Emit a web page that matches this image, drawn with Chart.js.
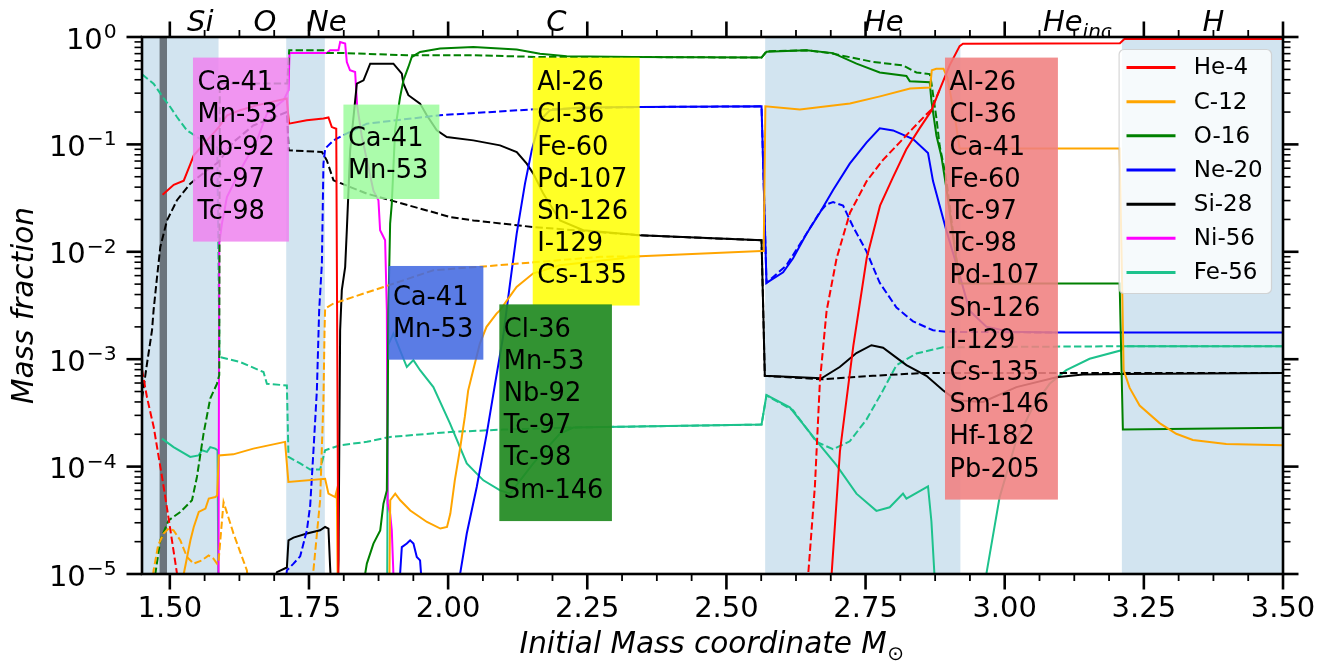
<!DOCTYPE html>
<html lang="en">
<head>
<meta charset="UTF-8">
<title>Mass fraction profiles</title>
<script src="https://cdn.jsdelivr.net/npm/chart.js"></script>
<style>
  html, body { margin: 0; padding: 0; background: #fff; }
  #wrap { width: 1336px; height: 662px; }
</style>
</head>
<body>
<div id="wrap"><canvas id="chart"></canvas></div>
<script>
// ---- data: [mass coordinate, mass fraction] ----
const isotopes = ['He-4', 'C-12', 'O-16', 'Ne-20', 'Si-28', 'Ni-56', 'Fe-56'];
const isoColors = ['#ff0000', '#ffa500', '#008000', '#0000ff', '#000000', '#ff00ff', '#1dc28c'];

const he4Solid = [[1.487,0.034],[1.507,0.042],[1.525,0.046],[1.537,0.066],[1.543,0.079],[1.567,0.109],[1.588,0.145],[1.603,0.187],[1.626,0.208],[1.656,0.231],[1.710,0.267],[1.714,0.156],[1.746,0.168],[1.776,0.174],[1.785,0.178],[1.791,0.145],[1.799,0.140],[1.803,5e-6],[2.684,5e-6],[2.689,1.0e-5],[2.704,1.39e-4],[2.728,1.33e-3],[2.752,8.7e-3],[2.776,0.0269],[2.799,0.049],[2.823,0.0895],[2.847,0.141],[2.868,0.205],[2.883,0.322],[2.901,0.544],[2.919,0.823],[2.925,0.867],[3.207,0.874],[3.215,0.956],[3.50,0.956]];
const he4Dashed = [[1.45,8.0e-4],[1.459,4.4e-4],[1.471,2.34e-4],[1.489,6.45e-5],[1.501,2.57e-5],[1.513,1.0e-5],[1.517,5e-6],[2.643,5e-6],[2.647,1.0e-5],[2.659,6.6e-5],[2.668,6.25e-4],[2.680,2.82e-3],[2.698,8.7e-3],[2.722,0.0231],[2.752,0.0455],[2.781,0.0714],[2.811,0.104],[2.835,0.141],[2.859,0.19],[2.868,0.21],[2.883,0.322]];

const c12Solid = [[1.522,7e-6],[1.525,1.0e-5],[1.537,2.06e-5],[1.543,2.74e-5],[1.552,3.78e-5],[1.564,4.06e-5],[1.570,5.04e-5],[1.582,5.21e-5],[1.585,5.4e-5],[1.588,1.27e-4],[1.614,1.30e-4],[1.650,1.47e-4],[1.707,1.70e-4],[1.713,7.2e-5],[1.779,7.7e-5],[1.785,5.6e-5],[1.797,5.2e-5],[1.800,6.0e-5],[1.802,5e-6],[1.894,5e-6],[1.896,4.86e-5],[1.905,5.6e-5],[1.914,4.86e-5],[1.932,3.9e-5],[1.962,3.05e-5],[1.986,2.65e-5],[1.998,2.74e-5],[2.004,3.65e-5],[2.012,7.45e-5],[2.021,1.42e-4],[2.030,2.9e-4],[2.036,5.1e-4],[2.045,7.9e-4],[2.057,1.40e-3],[2.069,2.0e-3],[2.087,2.66e-3],[2.093,2.85e-3],[2.123,4.7e-3],[2.153,6.3e-3],[2.201,7.5e-3],[2.345,9.1e-3],[2.563,0.0102],[2.567,0.0102],[2.570,0.226],[2.632,0.211],[2.722,0.240],[2.776,0.28],[2.830,0.331],[2.866,0.338],[2.869,0.49],[2.877,0.505],[2.890,0.505],[2.897,0.42],[2.912,0.16],[2.919,0.0914],[3.2065,0.0914],[3.2137,7.9e-4],[3.2245,5.4e-4],[3.2424,3.7e-4],[3.2783,2.54e-4],[3.3082,2.02e-4],[3.338,1.77e-4],[3.398,1.62e-4],[3.50,1.58e-4]];
const c12Dashed = [[1.465,5e-6],[1.4708,1.08e-5],[1.479,1.85e-5],[1.4888,2.38e-5],[1.4978,2.65e-5],[1.5067,2.55e-5],[1.5188,2.06e-5],[1.5308,1.44e-5],[1.5426,1.25e-5],[1.5577,1.34e-5],[1.5696,1.49e-5],[1.5785,1.39e-5],[1.5847,1.25e-5],[1.5875,1.3e-5],[1.5965,4.68e-5],[1.6144,2.38e-5],[1.6385,1.08e-5],[1.644,5e-6],[1.756,5e-6],[1.758,1.08e-5],[1.770,4.86e-5],[1.776,4.14e-4],[1.778,1.86e-3],[1.779,2.96e-3],[1.794,3.3e-3],[1.884,4.7e-3],[1.9735,6.73e-3],[2.063,7.3e-3],[2.153,7.98e-3],[2.273,8.98e-3],[2.345,9.1e-3]];

const o16Solid = [[1.842,5e-6],[1.8509,1.0e-5],[1.854,1.25e-5],[1.8658,1.92e-5],[1.878,2.55e-5],[1.8838,4.52e-5],[1.8899,6.0e-5],[1.8927,2.85e-3],[1.8958,0.0183],[1.8988,0.0281],[1.9047,0.135],[1.9137,0.276],[1.9197,0.395],[1.9286,0.526],[1.9347,0.651],[1.9496,0.725],[1.9855,0.78],[2.0453,0.807],[2.1232,0.763],[2.1651,0.70],[2.213,0.661],[2.3326,0.651],[2.5631,0.643],[2.572,0.728],[2.6439,0.752],[2.6917,0.708],[2.7337,0.565],[2.7755,0.468],[2.8234,0.434],[2.8294,0.388],[2.8653,0.379],[2.8683,0.256],[2.8773,0.121],[2.8863,0.077],[2.8922,0.049],[2.8958,0.0374],[2.919,5.06e-3],[3.2065,5.06e-3],[3.2123,2.21e-4],[3.50,2.3e-4]];
const o16Dashed = [[1.465,5e-6],[1.4739,1.0e-5],[1.4829,2.06e-5],[1.4978,3.16e-5],[1.5188,3.78e-5],[1.5398,4.86e-5],[1.5487,8.0e-5],[1.5606,2.03e-4],[1.5726,4.3e-4],[1.5846,5.9e-4],[1.5888,7.1e-4],[1.5897,0.37],[1.7109,0.37],[1.7145,0.752],[1.776,0.752],[1.7821,0.71],[1.806,0.71],[1.9258,0.676],[2.0453,0.676],[2.1651,0.651],[2.3326,0.651],[2.5631,0.643],[2.572,0.736],[2.6439,0.752],[2.6857,0.708],[2.7635,0.586],[2.8173,0.544],[2.8414,0.468],[2.8653,0.452],[2.8683,0.374],[2.8773,0.176],[2.8832,0.0966],[2.8922,0.057],[2.8976,0.0374],[2.919,5.06e-3]];

const ne20Solid = [[1.912,5e-6],[1.9137,1.0e-5],[1.9168,1.78e-5],[1.9258,1.92e-5],[1.9317,2.06e-5],[1.9377,1.92e-5],[1.9437,1.44e-5],[1.9496,1.34e-5],[1.9514,1.0e-5],[1.953,5e-6],[2.018,5e-6],[2.0215,1.0e-5],[2.0335,2.38e-5],[2.0514,6.45e-5],[2.0694,2.03e-4],[2.0843,5.9e-4],[2.0992,1.67e-3],[2.1112,5.06e-3],[2.1232,0.01476],[2.1381,0.0431],[2.1502,0.088],[2.165,0.168],[2.183,0.208],[2.237,0.221],[2.3446,0.223],[2.5631,0.226],[2.572,5.14e-3],[2.6019,6.44e-3],[2.6198,8.7e-3],[2.6439,0.01475],[2.6678,0.0231],[2.6917,0.0377],[2.7216,0.0662],[2.7516,0.104],[2.7755,0.141],[2.7994,0.135],[2.8353,0.112],[2.8622,0.083],[2.8712,0.0455],[2.8832,0.0269],[2.8952,0.0158],[2.919,6.04e-3],[2.9371,2.82e-3],[2.967,2.01e-3],[3.0089,1.80e-3],[3.0927,1.77e-3],[3.50,1.77e-3]];
const ne20Dashed = [[1.7038,5e-6],[1.7103,1.08e-5],[1.7222,1.25e-5],[1.7342,1.46e-5],[1.7462,2.55e-5],[1.7522,4.36e-5],[1.7581,1.42e-4],[1.7642,5.13e-4],[1.7683,2.85e-3],[1.7732,7.76e-3],[1.776,0.0662],[1.7791,0.0914],[1.794,0.109],[1.812,0.122],[1.854,0.156],[1.9855,0.187],[2.153,0.212],[2.3446,0.223],[2.5631,0.226],[2.572,5.14e-3],[2.608,7.5e-3],[2.6439,0.01475],[2.6678,0.0234],[2.6798,0.0277],[2.6917,0.029],[2.7096,0.0269],[2.7276,0.0171],[2.7516,0.0101],[2.7755,5.14e-3],[2.8055,3.03e-3],[2.8353,2.25e-3],[2.8712,1.86e-3],[2.8952,1.8e-3],[3.0927,1.77e-3]];

const si28Solid = [[1.680,5e-6],[1.6924,1.04e-5],[1.7103,1.15e-5],[1.7132,2.06e-5],[1.7222,2.18e-5],[1.7462,2.38e-5],[1.770,2.55e-5],[1.779,2.74e-5],[1.785,2.65e-5],[1.788,1.16e-5],[1.7916,5e-6],[1.8006,5e-6],[1.803,1.34e-5],[1.806,1.86e-3],[1.809,4.4e-3],[1.815,7.2e-3],[1.818,0.0159],[1.824,0.088],[1.836,0.368],[1.848,0.395],[1.860,0.565],[1.9017,0.565],[1.9168,0.456],[1.9197,0.368],[1.9286,0.287],[1.9496,0.240],[1.9617,0.187],[1.9796,0.135],[1.9976,0.117],[2.0453,0.109],[2.0933,0.098],[2.1233,0.085],[2.1412,0.0662],[2.153,0.0535],[2.171,0.0348],[2.201,0.0196],[2.2428,0.0159],[2.3446,0.01425],[2.5631,0.0128],[2.569,7.0e-4],[2.6708,6.64e-4],[2.7036,8.46e-4],[2.7336,1.14e-3],[2.7606,1.35e-3],[2.7814,1.28e-3],[2.8114,9.8e-4],[2.8234,8.8e-4],[2.8593,7.0e-4],[2.8891,5.13e-4],[2.9132,4.14e-4],[2.961,4.0e-4],[3.021,5.5e-4],[3.093,6.8e-4],[3.1405,7.2e-4],[3.2123,7.3e-4],[3.50,7.44e-4]];
const si28Dashed = [[1.45,4.3e-4],[1.459,9.1e-4],[1.468,1.86e-3],[1.4708,2.85e-3],[1.477,5.8e-3],[1.4829,0.0111],[1.4949,0.0196],[1.5128,0.0302],[1.5367,0.0431],[1.5667,0.0574],[1.5875,0.0686],[1.614,0.105],[1.650,0.15],[1.7103,0.2],[1.7135,0.088],[1.7732,0.085],[1.7821,0.071],[1.794,0.0463],[1.854,0.0348],[2.0035,0.0211],[2.0453,0.0196],[2.153,0.0170],[2.3446,0.01425],[2.5631,0.0128],[2.569,7.0e-4],[2.6708,6.5e-4],[2.7635,7.0e-4],[2.8532,7.44e-4],[3.50,7.44e-4]];

const ni56Solid = [[1.586,5e-6],[1.5875,1.0e-5],[1.5888,0.012],[1.5936,0.0183],[1.6026,0.0324],[1.6265,0.0574],[1.6565,0.109],[1.6744,0.194],[1.7042,0.257],[1.7132,0.319],[1.715,0.71],[1.7821,0.71],[1.788,0.752],[1.803,0.752],[1.806,0.898],[1.815,0.868],[1.818,0.585],[1.8237,0.49],[1.8329,0.472],[1.8365,0.231],[1.8448,0.12],[1.8658,0.037],[1.8748,0.0302],[1.8778,0.0159],[1.8868,0.0128],[1.8899,2.85e-3],[1.8913,4.55e-5],[1.8958,3.65e-5],[1.8988,2.55e-5],[1.9017,1.0e-5],[1.903,5e-6]];

const fe56Solid = [[1.4859,1.82e-4],[1.5067,1.52e-4],[1.5367,1.23e-4],[1.5516,1.27e-4],[1.5577,1.42e-4],[1.5667,1.37e-4],[1.5726,1.52e-4],[1.5816,1.47e-4],[1.5857,1.42e-4],[1.5875,5e-6],[1.8904,5e-6],[1.8922,1.35e-3],[1.9017,1.73e-3],[1.9137,1.21e-3],[1.9258,8.46e-4],[1.9376,9.8e-4],[1.9496,7.9e-4],[1.9735,5.5e-4],[2.0035,2.51e-4],[2.0335,1.07e-4],[2.0633,7.45e-5],[2.0933,6.0e-5],[2.1112,5.6e-5],[2.153,1.07e-4],[2.201,2.03e-4],[2.2249,2.31e-4],[2.5631,2.46e-4],[2.572,4.63e-4],[2.6139,3.56e-4],[2.6618,1.74e-4],[2.6977,1.03e-4],[2.7336,5.6e-5],[2.7695,3.87e-5],[2.7934,4.18e-5],[2.8173,5.6e-5],[2.8234,5.04e-5],[2.8622,6.56e-5],[2.8683,3.1e-5],[2.8742,9e-6],[2.878,5e-6],[2.964,5e-6],[2.967,1.0e-5],[2.9909,5.2e-5],[3.0209,1.76e-4],[3.0507,3.59e-4],[3.0807,5.9e-4],[3.1107,7.9e-4],[3.1525,1.01e-3],[3.2094,1.21e-3],[3.2135,1.32e-3],[3.50,1.32e-3]];
const fe56Dashed = [[1.45,0.45],[1.4708,0.368],[1.4888,0.269],[1.5008,0.223],[1.5128,0.180],[1.5308,0.135],[1.5398,0.126],[1.5637,0.105],[1.5852,0.094],[1.5893,1.05e-3],[1.6265,9.4e-4],[1.6683,7.6e-4],[1.6744,5.9e-4],[1.7103,5.7e-4],[1.7132,1.23e-4],[1.7342,1.07e-4],[1.7522,9.4e-5],[1.770,9.4e-5],[1.779,1.42e-4],[1.806,1.58e-4],[1.854,1.70e-4],[1.8958,1.89e-4],[2.0035,2.10e-4],[2.0992,2.21e-4],[2.213,2.31e-4],[2.5631,2.46e-4],[2.572,4.6e-4],[2.6198,3.34e-4],[2.6618,1.70e-4],[2.6916,1.45e-4],[2.7216,1.72e-4],[2.7516,2.74e-4],[2.7814,5.13e-4],[2.8055,8.8e-4],[2.8414,1.13e-3],[2.8891,1.29e-3],[3.2065,1.32e-3],[3.50,1.32e-3]];

const solidSeries = [he4Solid, c12Solid, o16Solid, ne20Solid, si28Solid, ni56Solid, fe56Solid];
const dashedSeries = [he4Dashed, c12Dashed, o16Dashed, ne20Dashed, si28Dashed, null, fe56Dashed];

// burning zones (shaded) and the mass cut band
const zoneSpans = [[1.45, 1.5875], [1.7091, 1.7785], [2.5696, 2.9204], [3.2105, 3.50]];
const cutBand = [1.4816, 1.4949];
const zoneNames = ['Si', 'O', 'Ne', 'C', 'He', 'He', 'H'];
const zoneSubs = ['', '', '', '', '', 'inc', ''];
const zoneLabelX = [1.5547, 1.6708, 1.7821, 2.1943, 2.7827, 3.0687, 3.3751];

// axis ticks
const xMajorTicks = [1.50, 1.75, 2.00, 2.25, 2.50, 2.75, 3.00, 3.25, 3.50];
const xTickLabels = ['1.50', '1.75', '2.00', '2.25', '2.50', '2.75', '3.00', '3.25', '3.50'];
const yMajorTicks = [1e-5, 1e-4, 1e-3, 1e-2, 1e-1, 1];
const yTickExps = ['\u22125', '\u22124', '\u22123', '\u22122', '\u22121', '0'];

// isotope lists in the coloured boxes
const violetList = ['Ca-41', 'Mn-53', 'Nb-92', 'Tc-97', 'Tc-98'];
const paleList = ['Ca-41', 'Mn-53'];
const royalList = ['Ca-41', 'Mn-53'];
const yellowList = ['Al-26', 'Cl-36', 'Fe-60', 'Pd-107', 'Sn-126', 'I-129', 'Cs-135'];
const forestList = ['Cl-36', 'Mn-53', 'Nb-92', 'Tc-97', 'Tc-98', 'Sm-146'];
const coralList = ['Al-26', 'Cl-36', 'Ca-41', 'Fe-60', 'Tc-97', 'Tc-98', 'Pd-107', 'Sn-126', 'I-129', 'Cs-135', 'Sm-146', 'Hf-182', 'Pb-205'];

const boxes = [
  { lines: violetList, fill: 'rgba(238,130,238,0.85)', x0: 1.5416, x1: 1.7140, yTop: 0.643, yBot: 0.01245, off: 32.7 },
  { lines: paleList, fill: 'rgba(152,251,152,0.82)', x0: 1.8119, x1: 1.9843, yTop: 0.2348, yBot: 0.0310, off: 41.4 },
  { lines: royalList, fill: 'rgba(65,105,225,0.87)', x0: 1.8927, x1: 2.0633, yTop: 7.38e-3, yBot: 9.9e-4, off: 39.3 },
  { lines: yellowList, fill: 'rgba(255,255,0,0.85)', x0: 2.152, x1: 2.3441, yTop: 0.643, yBot: 3.16e-3, off: 32.7 },
  { lines: forestList, fill: 'rgba(34,139,34,0.93)', x0: 2.092, x1: 2.2943, yTop: 3.24e-3, yBot: 3.11e-5, off: 32.3 },
  { lines: coralList, fill: 'rgba(240,128,128,0.88)', x0: 2.8927, x1: 3.0956, yTop: 0.643, yBot: 4.93e-5, off: 32.7 }
];

const FONT = '"DejaVu Sans", sans-serif';

// ---- datasets ----
const toXY = arr => arr.map(p => ({ x: p[0], y: p[1] }));
const datasets = [];
isotopes.forEach((name, i) => {
  datasets.push({ label: name, data: toXY(solidSeries[i]), borderColor: isoColors[i], borderWidth: 2,
    pointRadius: 0, tension: 0, fill: false });
  if (dashedSeries[i]) {
    datasets.push({ label: name + ' (dashed)', data: toXY(dashedSeries[i]), borderColor: isoColors[i], borderWidth: 2,
      borderDash: [7.4, 3.2], pointRadius: 0, tension: 0, fill: false });
  }
});

// ---- drawing helpers ----
const backgroundPlugin = {
  id: 'background',
  beforeDraw(chart) {
    const ctx = chart.ctx;
    ctx.save();
    ctx.fillStyle = '#ffffff';
    ctx.fillRect(0, 0, chart.width, chart.height);
    ctx.restore();
  },
  beforeDatasetsDraw(chart) {
    const { ctx, chartArea: ca, scales: { x } } = chart;
    ctx.save();
    ctx.fillStyle = 'rgba(31,119,180,0.2)';
    zoneSpans.forEach(([a, b]) => {
      const l = Math.max(ca.left, x.getPixelForValue(a));
      const r = Math.min(ca.right, x.getPixelForValue(b));
      ctx.fillRect(l, ca.top, r - l, ca.bottom - ca.top);
    });
    ctx.fillStyle = '#6b747c';
    const g0 = x.getPixelForValue(cutBand[0]), g1 = x.getPixelForValue(cutBand[1]);
    ctx.fillRect(g0, ca.top, g1 - g0, ca.bottom - ca.top);
    ctx.restore();
  }
};

const boxesAndLegend = {
  id: 'boxesAndLegend',
  afterDatasetsDraw(chart) {
    const { ctx, chartArea: ca, scales: { x, y } } = chart;
    ctx.save();
    // text boxes
    boxes.forEach(b => {
      const l = x.getPixelForValue(b.x0), r = x.getPixelForValue(b.x1);
      const t = y.getPixelForValue(b.yTop), bt = y.getPixelForValue(b.yBot);
      ctx.fillStyle = b.fill;
      ctx.fillRect(l, t, r - l, bt - t);
      ctx.fillStyle = '#000';
      ctx.font = '25.7px ' + FONT;
      ctx.textAlign = 'left';
      ctx.textBaseline = 'alphabetic';
      b.lines.forEach((s, i) => ctx.fillText(s, l + 4.5, t + b.off + i * 32.2));
    });
    // legend
    const lw = 152.4, lh = 244;
    const lx = ca.right - 11.5 - lw, ly = ca.top + 12.5;
    ctx.beginPath();
    ctx.roundRect(lx, ly, lw, lh, 5);
    ctx.fillStyle = 'rgba(255,255,255,0.8)';
    ctx.fill();
    ctx.strokeStyle = 'rgba(204,204,204,0.8)';
    ctx.lineWidth = 1.2;
    ctx.stroke();
    ctx.font = '23px ' + FONT;
    ctx.textBaseline = 'middle';
    isotopes.forEach((name, i) => {
      const yy = ly + 18 + i * 34.17;
      ctx.strokeStyle = isoColors[i];
      ctx.lineWidth = 3;
      ctx.beginPath();
      ctx.moveTo(lx + 7.4, yy);
      ctx.lineTo(lx + 56.4, yy);
      ctx.stroke();
      ctx.fillStyle = '#000';
      ctx.fillText(name, lx + 74.7, yy + 1);
    });
    ctx.restore();
  }
};

const axesPlugin = {
  id: 'axesFrame',
  afterDraw(chart) {
    const { ctx, chartArea: ca, scales: { x, y } } = chart;
    ctx.save();
    ctx.fillStyle = '#000';
    ctx.strokeStyle = '#000';

    // zone labels above the frame
    ctx.textAlign = 'left';
    ctx.textBaseline = 'alphabetic';
    zoneNames.forEach((nm, i) => {
      const cx = x.getPixelForValue(zoneLabelX[i]);
      ctx.font = 'italic 29px ' + FONT;
      if (zoneSubs[i]) {
        ctx.fillText(nm, cx, ca.top - 6);
        const w = ctx.measureText(nm).width;
        ctx.font = 'italic 20px ' + FONT;
        ctx.fillText(zoneSubs[i], cx + w, ca.top + 1);
      } else {
        const w = ctx.measureText(nm).width;
        ctx.fillText(nm, cx - w / 2, ca.top - 6);
      }
    });

    const tick = (x1, y1, x2, y2, w) => {
      ctx.lineWidth = w;
      ctx.beginPath();
      ctx.moveTo(x1, y1);
      ctx.lineTo(x2, y2);
      ctx.stroke();
    };
    // x ticks (bottom and top)
    xMajorTicks.forEach(v => {
      const p = x.getPixelForValue(v);
      tick(p, ca.bottom, p, ca.bottom + 15.5, 2.6);
      tick(p, ca.top, p, ca.top - 15.5, 2.6);
    });
    for (let i = 0; i < xMajorTicks.length - 1; i++) {
      for (let k = 1; k < 4; k++) {
        const v = xMajorTicks[i] + k * (xMajorTicks[i + 1] - xMajorTicks[i]) / 4;
        const p = x.getPixelForValue(v);
        tick(p, ca.bottom, p, ca.bottom + 7, 1.8);
        tick(p, ca.top, p, ca.top - 7, 1.8);
      }
    }
    // y ticks (left and right)
    yMajorTicks.forEach((v, i) => {
      const p = y.getPixelForValue(v);
      tick(ca.left, p, ca.left - 15.5, p, 2.6);
      tick(ca.right, p, ca.right + 15.5, p, 2.6);
      if (i < yMajorTicks.length - 1) {
        for (let k = 2; k <= 9; k++) {
          const q = y.getPixelForValue(v * k);
          tick(ca.left, q, ca.left - 7.5, q, 1.6);
          tick(ca.right, q, ca.right + 7.5, q, 1.6);
        }
      }
    });

    // frame
    ctx.lineWidth = 2.6;
    ctx.strokeRect(ca.left, ca.top, ca.right - ca.left, ca.bottom - ca.top);

    // x tick labels
    ctx.font = '29px ' + FONT;
    ctx.textAlign = 'center';
    ctx.textBaseline = 'alphabetic';
    xMajorTicks.forEach((v, i) => {
      ctx.fillText(xTickLabels[i], x.getPixelForValue(v), ca.bottom + 43.3);
    });
    // y tick labels as powers of ten
    ctx.textAlign = 'right';
    const rx = ca.left - 25.3;
    yMajorTicks.forEach((v, i) => {
      const p = y.getPixelForValue(v);
      ctx.font = '20.3px ' + FONT;
      const ew = ctx.measureText(yTickExps[i]).width;
      ctx.fillText(yTickExps[i], rx, p + 1);
      ctx.font = '29px ' + FONT;
      ctx.fillText('10', rx - ew - 1, p + 11.5);
    });

    // axis titles
    ctx.font = 'italic 29.5px ' + FONT;
    const main = 'Initial Mass coordinate M';
    const mw = ctx.measureText(main).width;
    ctx.font = '20px ' + FONT;
    const sw = ctx.measureText('\u2299').width;
    const cx = (ca.left + ca.right) / 2 - 1;
    const sx = cx - (mw + sw) / 2;
    ctx.textAlign = 'left';
    ctx.font = 'italic 29.5px ' + FONT;
    ctx.fillText(main, sx, 653.3);
    ctx.font = '20px ' + FONT;
    ctx.fillText('\u2299', sx + mw + 0.5, 659.5);

    ctx.save();
    ctx.translate(33.3, (ca.top + ca.bottom) / 2);
    ctx.rotate(-Math.PI / 2);
    ctx.textAlign = 'center';
    ctx.font = 'italic 29.5px ' + FONT;
    ctx.fillText('Mass fraction', 0, 0);
    ctx.restore();

    ctx.restore();
  }
};

new Chart(document.getElementById('chart'), {
  type: 'line',
  data: { datasets: datasets },
  options: {
    responsive: true,
    maintainAspectRatio: false,
    animation: false,
    devicePixelRatio: 1,
    layout: { padding: { left: 0, right: 53, top: 37, bottom: 0 } },
    plugins: { legend: { display: false }, tooltip: { enabled: false } },
    scales: {
      x: {
        type: 'linear', min: 1.45, max: 3.50,
        grid: { display: false }, border: { display: false }, ticks: { display: false },
        afterFit: s => { s.height = 88; }
      },
      y: {
        type: 'logarithmic', min: 1e-5, max: 1,
        grid: { display: false }, border: { display: false }, ticks: { display: false },
        afterFit: s => { s.width = 142; }
      }
    }
  },
  plugins: [backgroundPlugin, boxesAndLegend, axesPlugin]
});
</script>
</body>
</html>
